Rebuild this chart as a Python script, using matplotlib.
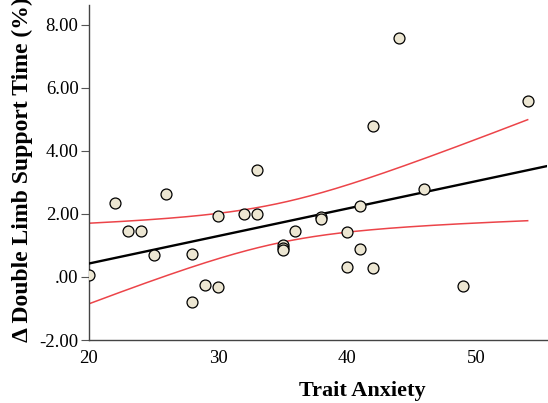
import numpy as np
import matplotlib
matplotlib.use("Agg")
import matplotlib.pyplot as plt
from matplotlib.ticker import FuncFormatter

# data
trait_anxiety = [20, 22, 23, 24, 25, 26, 28, 28, 29, 30, 30, 32, 33, 33,
                 35, 35, 35, 36, 38, 38, 40, 40, 41, 41, 42, 42, 44, 46, 49, 54]
dls_change = [0.05, 2.36, 1.47, 1.47, 0.69, 2.62, 0.74, -0.79, -0.25, 1.93, -0.31,
              1.99, 3.40, 1.99, 1.02, 0.92, 0.85, 1.47, 1.91, 1.84, 1.44, 0.33,
              2.25, 0.90, 4.79, 0.30, 7.57, 2.79, -0.28, 5.59]
y_ticks = [-2, 0, 2, 4, 6, 8]
x_ticks = [20, 30, 40, 50]

plt.rcParams['font.family'] = ['Liberation Serif', 'DejaVu Serif']

x = np.array(trait_anxiety, dtype=float)
y = np.array(dls_change, dtype=float)

# linear fit and 95% CI of the mean
n = len(x)
b, a = np.polyfit(x, y, 1)
resid = y - (a + b * x)
s = np.sqrt(np.sum(resid ** 2) / (n - 2))
tcrit = 2.048  # t(0.975, df=28)
xm = x.mean()
sxx = np.sum((x - xm) ** 2)

fig = plt.figure(figsize=(5.48, 4.03), dpi=100)
ax = fig.add_axes([0.1624, 0.1563, 0.8358, 0.8313])

xlim = (20, 55.5)
xf = np.linspace(xlim[0], xlim[1], 200)
ax.plot(xf, a + b * xf, color='black', lw=1.7, zorder=3)

xc = np.linspace(x.min(), x.max(), 200)
half = tcrit * s * np.sqrt(1 / n + (xc - xm) ** 2 / sxx)
ax.plot(xc, a + b * xc + half, color='#EC4449', lw=1.1, zorder=2)
ax.plot(xc, a + b * xc - half, color='#EC4449', lw=1.1, zorder=2)

ax.scatter(x, y, s=62, facecolor='#ECE6D2', edgecolor='black', linewidth=0.9, zorder=4)

ax.set_xlim(*xlim)
ax.set_ylim(-2, 8.63)
ax.set_xticks(x_ticks)
ax.set_yticks(y_ticks)

def fmt(v, pos):
    s_ = f"{v:.2f}"
    if s_.startswith("0."):
        s_ = s_[1:]
    return s_

ax.yaxis.set_major_formatter(FuncFormatter(fmt))
ax.tick_params(axis='y', length=6, width=0.8, color='#555555', labelsize=13.5, pad=1.5)
ax.tick_params(axis='x', length=0, labelsize=13.5, pad=7)
for side in ['top', 'right']:
    ax.spines[side].set_visible(False)
for side in ['left', 'bottom']:
    ax.spines[side].set_color('#444444')
    ax.spines[side].set_linewidth(1.0)

fig.text(362 / 548, 1 - 391 / 403, "Trait Anxiety", ha='center', va='center',
         fontsize=16, fontweight='bold')
fig.text(22 / 548, 1 - 342 / 403, "\u0394 Double Limb Support Time (%)", ha='center',
         va='bottom', rotation=90, fontsize=17, fontweight='bold')

fig.savefig("out.png", dpi=100)
